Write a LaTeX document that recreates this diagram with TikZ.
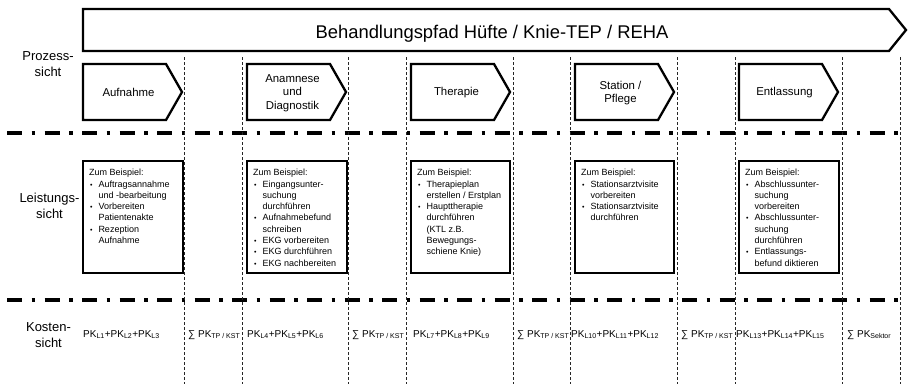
\documentclass[tikz,border=0pt]{standalone}
\usepackage{fontspec}
\setmainfont{Liberation Sans}

\tikzset{
  pfeil/.style={draw, line width=2.3pt},
  kasten/.style={draw, line width=2.6pt},
  trenner/.style={line width=4pt, dash pattern=on 15pt off 9.5pt on 3.5pt off 9.5pt},
  spalte/.style={line width=0.7pt, dash pattern=on 3pt off 2pt, black!85},
  sicht/.style={align=center, font=\fontsize{13}{16}\selectfont},
  schritttext/.style={align=center, font=\fontsize{11.4}{13.7}\selectfont},
  beispiel/.style={anchor=north west, inner sep=0pt, align=left, font=\fontsize{9}{11.3}\selectfont},
  kosten/.style={anchor=base west, inner sep=0pt, font=\fontsize{10}{12}\selectfont}
}
\newcommand{\pkt}{\makebox[9.3pt][l]{\hspace{1pt}{\fontsize{7}{7}\selectfont •}}}
\newcommand{\ein}{\hspace*{9.3pt}}
\newcommand{\pkost}[1]{PK\textsubscript{#1}}

\begin{document}
\begin{tikzpicture}[x=1pt, y=-1pt]
            \useasboundingbox (0,0) rectangle (908,384);
            % Sichten
            \node [sicht] (prozess) at (48,64.5) {Prozess-\\sicht};
            \node [sicht] (leistung) at (49.5,205.5) {Leistungs-\\sicht};
            \node [sicht] (kostensicht) at (48.5,335.5) {Kosten-\\sicht};
            % Behandlungspfad
            \draw [pfeil] (83,9) -- (889,9) -- (906,30) -- (889,51) -- (83,51) -- cycle;
            \node [anchor=base, font=\fontsize{18.4}{22}\selectfont] (titel) at (492,38) {Behandlungspfad Hüfte / Knie-TEP / REHA};
            % Trennlinien
            \draw [trenner] (7,133) -- (900,133);
            \draw [trenner] (7,300) -- (900,300);
            \draw [spalte] (184,57) -- (184,384);
            \draw [spalte] (242,57) -- (242,384);
            \draw [spalte] (348,57) -- (348,384);
            \draw [spalte] (406,57) -- (406,384);
            \draw [spalte] (513,57) -- (513,384);
            \draw [spalte] (570,57) -- (570,384);
            \draw [spalte] (677,57) -- (677,384);
            \draw [spalte] (735,57) -- (735,384);
            \draw [spalte] (842,57) -- (842,384);
            \draw [spalte] (900,57) -- (900,384);
            % Prozesssicht
            \draw [pfeil] (83,64) -- (166,64) -- (182,92) -- (166,120) -- (83,120) -- cycle;
            \node [schritttext] (aufnahme) at (128.5,92.5) {Aufnahme};
            \draw [pfeil] (247,64) -- (330,64) -- (346,92) -- (330,120) -- (247,120) -- cycle;
            \node [schritttext] (anamnese) at (292.5,93) {Anamnese\\und\\Diagnostik};
            \draw [pfeil] (411,64) -- (494,64) -- (510,92) -- (494,120) -- (411,120) -- cycle;
            \node [schritttext] (therapie) at (456.5,92.5) {Therapie};
            \draw [pfeil] (575,64) -- (658,64) -- (674,92) -- (658,120) -- (575,120) -- cycle;
            \node [schritttext] (station) at (620.5,93) {Station /\\Pflege};
            \draw [pfeil] (739,64) -- (822,64) -- (838,92) -- (822,120) -- (739,120) -- cycle;
            \node [schritttext] (entlassung) at (784.5,92.5) {Entlassung};
            % Leistungssicht
            \draw [kasten] (83,161) rectangle (183,273);
            \node [beispiel] (bsp1) at (89,169) {Zum Beispiel:\\
              \pkt Auftragsannahme\\ \ein und -bearbeitung\\
              \pkt Vorbereiten\\ \ein Patientenakte\\
              \pkt Rezeption\\ \ein Aufnahme};
            \draw [kasten] (247,161) rectangle (347,273);
            \node [beispiel] (bsp2) at (253,169) {Zum Beispiel:\\
              \pkt Eingangsunter-\\ \ein suchung\\ \ein durchführen\\
              \pkt Aufnahmebefund\\ \ein schreiben\\
              \pkt EKG vorbereiten\\
              \pkt EKG durchführen\\
              \pkt EKG nachbereiten};
            \draw [kasten] (411,161) rectangle (510,273);
            \node [beispiel] (bsp3) at (417,169) {Zum Beispiel:\\
              \pkt Therapieplan\\ \ein erstellen / Erstplan\\
              \pkt Haupttherapie\\ \ein durchführen\\ \ein (KTL z.B.\\ \ein Bewegungs-\\ \ein schiene Knie)};
            \draw [kasten] (575,161) rectangle (674,273);
            \node [beispiel] (bsp4) at (581,169) {Zum Beispiel:\\
              \pkt Stationsarztvisite\\ \ein vorbereiten\\
              \pkt Stationsarztvisite\\ \ein durchführen};
            \draw [kasten] (739,161) rectangle (839,273);
            \node [beispiel] (bsp5) at (745,169) {Zum Beispiel:\\
              \pkt Abschlussunter-\\ \ein suchung\\ \ein vorbereiten\\
              \pkt Abschlussunter-\\ \ein suchung\\ \ein durchführen\\
              \pkt Entlassungs-\\ \ein befund diktieren};
            % Kostensicht
            \node [kosten] (pk1) at (83,337) {\pkost{L1}+\pkost{L2}+\pkost{L3}};
            \node [kosten] (summe1) at (188,337) {∑ \pkost{TP / KST}};
            \node [kosten] (pk2) at (247,337) {\pkost{L4}+\pkost{L5}+\pkost{L6}};
            \node [kosten] (summe2) at (352,337) {∑ \pkost{TP / KST}};
            \node [kosten] (pk3) at (413,337) {\pkost{L7}+\pkost{L8}+\pkost{L9}};
            \node [kosten] (summe3) at (517,337) {∑ \pkost{TP / KST}};
            \node [kosten] (pk4) at (571,337) {\pkost{L10}+\pkost{L11}+\pkost{L12}};
            \node [kosten] (summe4) at (681,337) {∑ \pkost{TP / KST}};
            \node [kosten] (pk5) at (736,337) {\pkost{L13}+\pkost{L14}+\pkost{L15}};
            \node [kosten] (summe5) at (847,337) {∑ \pkost{Sektor}};
        \end{tikzpicture}
\end{document}
